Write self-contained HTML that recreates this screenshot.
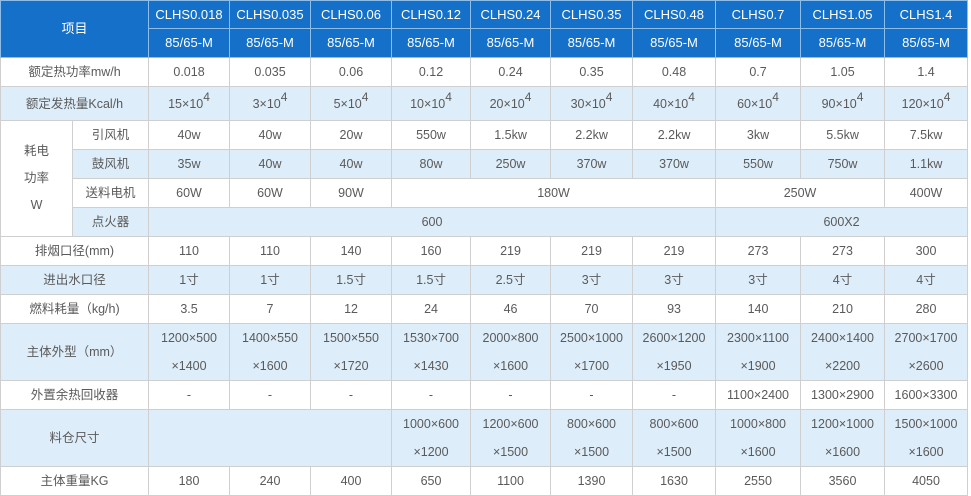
<!DOCTYPE html>
<html><head><meta charset="utf-8">
<style>
html,body{margin:0;padding:0;background:#fff;width:971px;height:496px;overflow:hidden}
table{border-collapse:collapse;table-layout:fixed;width:968px;font-family:"Liberation Sans","Noto Sans CJK SC",sans-serif;font-size:12.5px;color:#5a5a5a;position:absolute;left:0;top:0}
td{border:1px solid #cfcfcf;text-align:center;padding:0;vertical-align:middle;line-height:16px}
tr.b td{background:#deedfa}
td.w{background:#fff !important}
.h td{background:#1470c8;color:#fff;border-color:#8dbde9;font-size:13px}
sup{font-size:12px;vertical-align:7px;line-height:0}
tr.two td{line-height:28px}
</style></head><body>
<table>
<colgroup><col style="width:72px"><col style="width:76px"><col style="width:81px"><col style="width:81px"><col style="width:81px"><col style="width:79px"><col style="width:80px"><col style="width:82px"><col style="width:83px"><col style="width:85px"><col style="width:84px"><col style="width:83px"></colgroup>
<tr class="h" style="height:28px"><td colspan="2" rowspan="2">项目</td><td>CLHS0.018</td><td>CLHS0.035</td><td>CLHS0.06</td><td>CLHS0.12</td><td>CLHS0.24</td><td>CLHS0.35</td><td>CLHS0.48</td><td>CLHS0.7</td><td>CLHS1.05</td><td>CLHS1.4</td></tr>
<tr class="h" style="height:29px"><td>85/65-M</td><td>85/65-M</td><td>85/65-M</td><td>85/65-M</td><td>85/65-M</td><td>85/65-M</td><td>85/65-M</td><td>85/65-M</td><td>85/65-M</td><td>85/65-M</td></tr>
<tr style="height:29px"><td colspan="2">额定热功率mw/h</td><td>0.018</td><td>0.035</td><td>0.06</td><td>0.12</td><td>0.24</td><td>0.35</td><td>0.48</td><td>0.7</td><td>1.05</td><td>1.4</td></tr>
<tr class="b" style="height:34px"><td colspan="2">额定发热量Kcal/h</td><td>15×10<sup>4</sup></td><td>3×10<sup>4</sup></td><td>5×10<sup>4</sup></td><td>10×10<sup>4</sup></td><td>20×10<sup>4</sup></td><td>30×10<sup>4</sup></td><td>40×10<sup>4</sup></td><td>60×10<sup>4</sup></td><td>90×10<sup>4</sup></td><td>120×10<sup>4</sup></td></tr>
<tr style="height:29px"><td rowspan="4" class="w" style="line-height:27px">耗电<br>功率<br>W</td><td>引风机</td><td>40w</td><td>40w</td><td>20w</td><td>550w</td><td>1.5kw</td><td>2.2kw</td><td>2.2kw</td><td>3kw</td><td>5.5kw</td><td>7.5kw</td></tr>
<tr class="b" style="height:29px"><td>鼓风机</td><td>35w</td><td>40w</td><td>40w</td><td>80w</td><td>250w</td><td>370w</td><td>370w</td><td>550w</td><td>750w</td><td>1.1kw</td></tr>
<tr style="height:29px"><td>送料电机</td><td>60W</td><td>60W</td><td>90W</td><td colspan="4">180W</td><td colspan="2">250W</td><td>400W</td></tr>
<tr class="b" style="height:29px"><td>点火器</td><td colspan="7">600</td><td colspan="3">600X2</td></tr>
<tr style="height:29px"><td colspan="2">排烟口径(mm)</td><td>110</td><td>110</td><td>140</td><td>160</td><td>219</td><td>219</td><td>219</td><td>273</td><td>273</td><td>300</td></tr>
<tr class="b" style="height:29px"><td colspan="2">进出水口径</td><td>1寸</td><td>1寸</td><td>1.5寸</td><td>1.5寸</td><td>2.5寸</td><td>3寸</td><td>3寸</td><td>3寸</td><td>4寸</td><td>4寸</td></tr>
<tr style="height:29px"><td colspan="2">燃料耗量（kg/h)</td><td>3.5</td><td>7</td><td>12</td><td>24</td><td>46</td><td>70</td><td>93</td><td>140</td><td>210</td><td>280</td></tr>
<tr class="b two" style="height:57px"><td colspan="2">主体外型（mm）</td><td>1200×500<br>×1400</td><td>1400×550<br>×1600</td><td>1500×550<br>×1720</td><td>1530×700<br>×1430</td><td>2000×800<br>×1600</td><td>2500×1000<br>×1700</td><td>2600×1200<br>×1950</td><td>2300×1100<br>×1900</td><td>2400×1400<br>×2200</td><td>2700×1700<br>×2600</td></tr>
<tr style="height:29px"><td colspan="2">外置余热回收器</td><td>-</td><td>-</td><td>-</td><td>-</td><td>-</td><td>-</td><td>-</td><td>1100×2400</td><td>1300×2900</td><td>1600×3300</td></tr>
<tr class="b two" style="height:57px"><td colspan="2">料仓尺寸</td><td colspan="3"></td><td>1000×600<br>×1200</td><td>1200×600<br>×1500</td><td>800×600<br>×1500</td><td>800×600<br>×1500</td><td>1000×800<br>×1600</td><td>1200×1000<br>×1600</td><td>1500×1000<br>×1600</td></tr>
<tr style="height:29px"><td colspan="2">主体重量KG</td><td>180</td><td>240</td><td>400</td><td>650</td><td>1100</td><td>1390</td><td>1630</td><td>2550</td><td>3560</td><td>4050</td></tr>
</table>
</body></html>
